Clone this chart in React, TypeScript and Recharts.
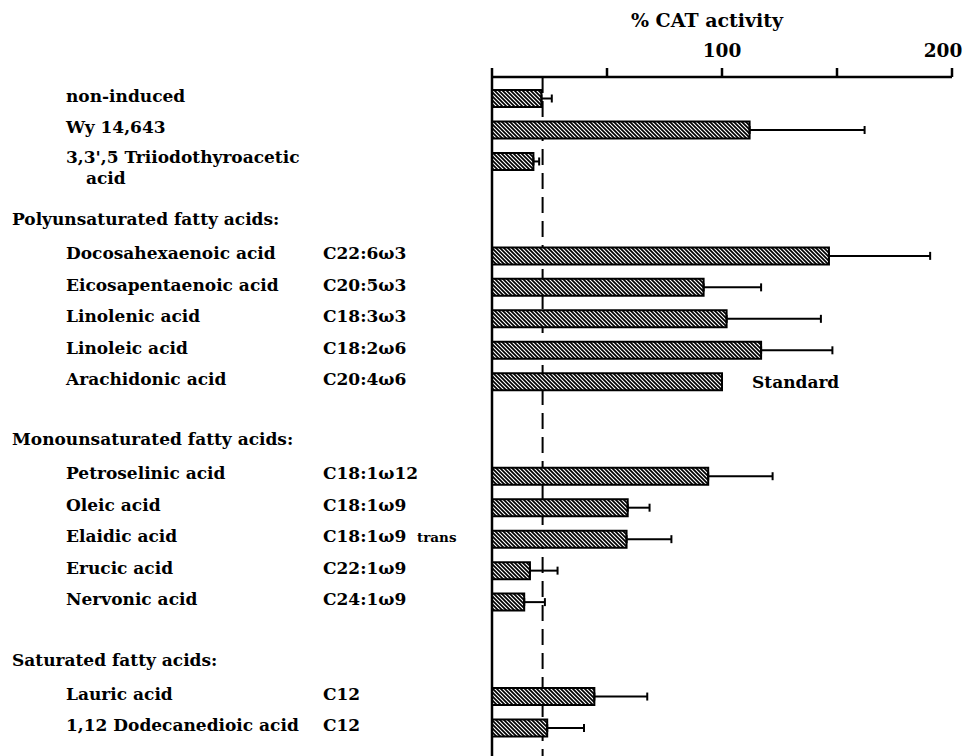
import React from "react";
import {
  BarChart,
  Bar,
  XAxis,
  YAxis,
  ErrorBar,
  ReferenceLine,
  LabelList,
  Label,
} from "recharts";

// one entry per row, top to bottom ("" = spacer row)
const labels = [
  "non-induced",
  "Wy 14,643",
  "3,3',5 Triiodothyroacetic",
  "",
  "Polyunsaturated fatty acids:",
  "Docosahexaenoic acid",
  "Eicosapentaenoic acid",
  "Linolenic acid",
  "Linoleic acid",
  "Arachidonic acid",
  "",
  "Monounsaturated fatty acids:",
  "Petroselinic acid",
  "Oleic acid",
  "Elaidic acid",
  "Erucic acid",
  "Nervonic acid",
  "",
  "Saturated fatty acids:",
  "Lauric acid",
  "1,12 Dodecanedioic acid",
];

const headerRows = [4, 11, 18];

const formulas = [
  "", "", "", "", "",
  "C22:6ω3", "C20:5ω3", "C18:3ω3", "C18:2ω6", "C20:4ω6",
  "", "",
  "C18:1ω12", "C18:1ω9", "C18:1ω9", "C22:1ω9", "C24:1ω9",
  "", "",
  "C12", "C12",
];

const formulaNotes = [
  "", "", "", "", "", "", "", "", "", "", "", "", "", "", "trans", "", "", "", "", "", "",
];

// % CAT activity (mean) and upper error
const activity = [
  21.5, 112, 18, null, null,
  146.5, 92, 102, 117, 100,
  null, null,
  94, 59, 58.5, 16.5, 14,
  null, null,
  44.5, 24,
];

const errors = [
  4.5, 50, 2.5, null, null,
  44, 25, 41, 31, null,
  null, null,
  28, 9.5, 19.5, 12, 9,
  null, null,
  23, 16,
];

const notes = [
  "", "", "", "", "", "", "", "", "", "Standard", "", "", "", "", "", "", "", "", "", "", "",
];

const xTicks = [0, 50, 100, 150, 200];
const xTickLabels = [100, 200];
const nonInducedLevel = 22;

const FONT = "'DejaVu Serif', serif";
const FS = 17;

const rows = labels.map((label, i) => ({
  key: `row${i}`,
  label,
  header: headerRows.includes(i),
  formula: formulas[i],
  formulaNote: formulaNotes[i],
  value: activity[i],
  err: errors[i] == null ? null : [0, errors[i]],
  note: notes[i] || undefined,
}));

function RowTick(props: any) {
  const { y, payload } = props;
  const row = rows.find((r) => r.key === payload.value);
  if (!row || !row.label) return null;
  if (row.header) {
    return (
      <text x={12} y={y + 0.5} fontFamily={FONT} fontWeight={700} fontSize={FS} fill="#000">
        {row.label}
      </text>
    );
  }
  // two-line label for the triiodo compound
  if (row.label.startsWith("3,3'")) {
    return (
      <text x={66} y={y + 1} fontFamily={FONT} fontWeight={700} fontSize={FS} fill="#000">
        <tspan x={66}>{row.label}</tspan>
        <tspan x={86} dy={21}>acid</tspan>
      </text>
    );
  }
  return (
    <g>
      <text x={66} y={y + 3} fontFamily={FONT} fontWeight={700} fontSize={FS} fill="#000">
        {row.label}
      </text>
      {row.formula && (
        <text x={323} y={y + 3} fontFamily={FONT} fontWeight={700} fontSize={FS} fill="#000">
          {row.formula}
        </text>
      )}
      {row.formulaNote && (
        <text x={417} y={y + 3} fontFamily={FONT} fontWeight={700} fontSize={13.5} fill="#000">
          {row.formulaNote}
        </text>
      )}
    </g>
  );
}

function TopTick(props: any) {
  const { x, y, payload } = props;
  if (!xTickLabels.includes(payload.value)) return null;
  const last = payload.value === xTicks[xTicks.length - 1];
  return (
    <text
      x={x + (last ? -9 : 0)}
      y={y - 9}
      textAnchor="middle"
      fontFamily={FONT}
      fontWeight={700}
      fontSize={18.5}
      fill="#000"
    >
      {payload.value}
    </text>
  );
}

export default function App() {
  return (
    <div style={{ position: "absolute", left: 0, top: 0, width: 968, height: 756, background: "#fff" }}>
      <svg width={0} height={0} style={{ position: "absolute" }}>
        <defs>
          <pattern id="hatch" patternUnits="userSpaceOnUse" width={4} height={4}>
            <rect width={4} height={4} fill="#fff" />
            <path d="M-1,-1 L5,5 M-1,3 L1,5 M3,-1 L5,1" stroke="#000" strokeWidth={1.7} />
          </pattern>
        </defs>
      </svg>
      <BarChart
        width={968}
        height={756}
        data={rows}
        layout="vertical"
        margin={{ top: 0, right: 16, bottom: 0, left: 0 }}
      >
        <XAxis
          type="number"
          orientation="top"
          domain={[0, 200]}
          ticks={xTicks}
          height={77}
          tickSize={9}
          tick={<TopTick />}
          axisLine={{ stroke: "#000", strokeWidth: 2.5 }}
          tickLine={{ stroke: "#000", strokeWidth: 2.5 }}
        >
          <Label
            content={(p: any) => {
              const vb = p.viewBox || { x: 492, width: 460, y: 0 };
              return (
                <text
                  x={vb.x + vb.width / 2 - 15}
                  y={vb.y + 27}
                  textAnchor="middle"
                  fontFamily={FONT}
                  fontWeight={700}
                  fontSize={19}
                  fill="#000"
                >
                  % CAT activity
                </text>
              );
            }}
          />
        </XAxis>
        <YAxis
          type="category"
          dataKey="key"
          width={492}
          interval={0}
          padding={{ top: 6, bottom: 12 }}
          tickLine={false}
          tick={<RowTick />}
          axisLine={{ stroke: "#000", strokeWidth: 2.5 }}
        />
        <ReferenceLine
          x={nonInducedLevel}
          stroke="#000"
          strokeWidth={2}
          strokeDasharray="16 8"
          zIndex={0}
        />
        <Bar
          dataKey="value"
          barSize={17}
          fill="url(#hatch)"
          stroke="#000"
          strokeWidth={2}
          isAnimationActive={false}
        >
          <ErrorBar
            dataKey="err"
            direction="x"
            width={4}
            stroke="#000"
            strokeWidth={2}
            isAnimationActive={false}
          />
          <LabelList
            dataKey="note"
            position="right"
            offset={30}
            fontFamily={FONT}
            fontWeight={700}
            fontSize={FS}
            fill="#000"
          />
        </Bar>
      </BarChart>
    </div>
  );
}
